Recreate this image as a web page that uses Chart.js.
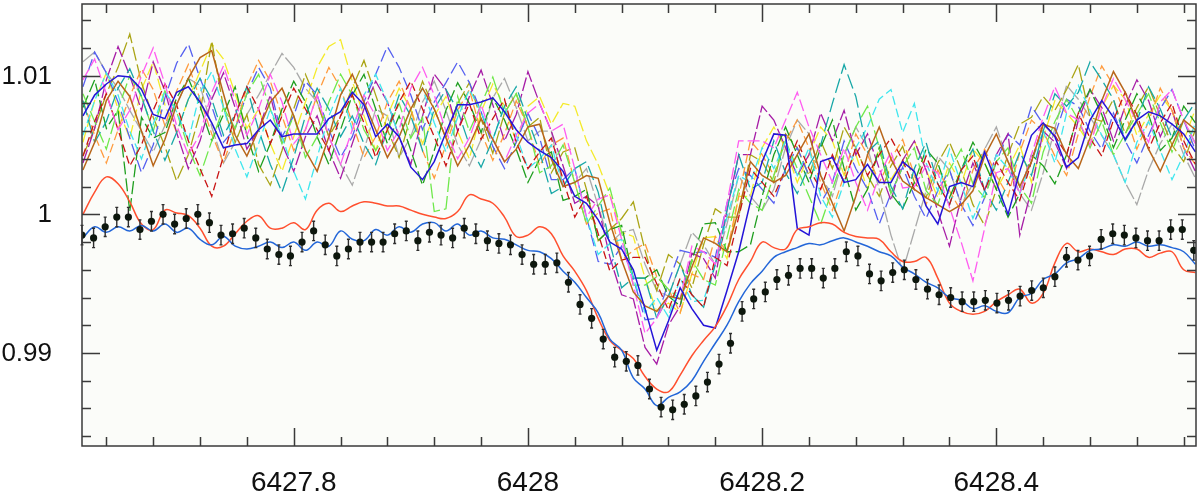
<!DOCTYPE html>
<html>
<head>
<meta charset="utf-8">
<script src="https://cdn.jsdelivr.net/npm/chart.js@4.4.0/dist/chart.umd.min.js"></script>
<style>
  html, body { margin: 0; padding: 0; background: #ffffff; }
  #wrap { width: 1200px; height: 498px; }
</style>
</head>
<body>
<div id="wrap"><canvas id="spectrum" width="1200" height="498"></canvas></div>
<script>
// --- AXIS RANGE AND TICKS ---
const xMin = 6427.6192, xMax = 6428.5705;
const yMin = 0.98329, yMax = 1.01517;
const xMajorTicks = [6427.8, 6428, 6428.2, 6428.4];
const xTickLabels = ['6427.8', '6428', '6428.2', '6428.4'];
const yMajorTicks = [0.99, 1, 1.01];
const yTickLabels = ['0.99', '1', '1.01'];
const xMinorStep = 0.04, yMinorStep = 0.002;

// --- WAVELENGTH GRIDS ---
const modelWave = [
  6427.62,6427.63,6427.64,6427.65,6427.66,6427.67,6427.68,6427.69,6427.70,6427.71,
  6427.72,6427.73,6427.74,6427.75,6427.76,6427.77,6427.78,6427.79,6427.80,6427.81,
  6427.82,6427.83,6427.84,6427.85,6427.86,6427.87,6427.88,6427.89,6427.90,6427.91,
  6427.92,6427.93,6427.94,6427.95,6427.96,6427.97,6427.98,6427.99,6428.00,6428.01,
  6428.02,6428.03,6428.04,6428.05,6428.06,6428.07,6428.08,6428.09,6428.10,6428.11,
  6428.12,6428.13,6428.14,6428.15,6428.16,6428.17,6428.18,6428.19,6428.20,6428.21,
  6428.22,6428.23,6428.24,6428.25,6428.26,6428.27,6428.28,6428.29,6428.30,6428.31,
  6428.32,6428.33,6428.34,6428.35,6428.36,6428.37,6428.38,6428.39,6428.40,6428.41,
  6428.42,6428.43,6428.44,6428.45,6428.46,6428.47,6428.48,6428.49,6428.50,6428.51,
  6428.52,6428.53,6428.54,6428.55,6428.56,6428.57
];
const obsWave = [
  6427.6192,6427.6291,6427.6390,6427.6489,6427.6588,6427.6687,6427.6785,6427.6884,6427.6983,6427.7082,
  6427.7181,6427.7280,6427.7379,6427.7478,6427.7577,6427.7676,6427.7774,6427.7873,6427.7972,6427.8071,
  6427.8170,6427.8269,6427.8368,6427.8467,6427.8566,6427.8665,6427.8763,6427.8862,6427.8961,6427.9060,
  6427.9159,6427.9258,6427.9357,6427.9456,6427.9555,6427.9654,6427.9752,6427.9851,6427.9950,6428.0049,
  6428.0148,6428.0247,6428.0346,6428.0445,6428.0544,6428.0643,6428.0741,6428.0840,6428.0939,6428.1038,
  6428.1137,6428.1236,6428.1335,6428.1434,6428.1533,6428.1632,6428.1730,6428.1829,6428.1928,6428.2027,
  6428.2126,6428.2225,6428.2324,6428.2423,6428.2522,6428.2621,6428.2719,6428.2818,6428.2917,6428.3016,
  6428.3115,6428.3214,6428.3313,6428.3412,6428.3511,6428.3610,6428.3708,6428.3807,6428.3906,6428.4005,
  6428.4104,6428.4203,6428.4302,6428.4401,6428.4500,6428.4599,6428.4697,6428.4796,6428.4895,6428.4994,
  6428.5093,6428.5192,6428.5291,6428.5390,6428.5489,6428.5588,6428.5686
];

// --- OBSERVED (AVERAGED) SPECTRUM ---
const obsFlux = [
  0.9985,0.9983,0.9991,0.9998,0.9998,0.9989,0.9995,1.0000,0.9993,0.9997,
  1.0000,0.9994,0.9985,0.9986,0.9990,0.9983,0.9975,0.9971,0.9970,0.9980,
  0.9988,0.9978,0.9970,0.9975,0.9980,0.9980,0.9980,0.9986,0.9988,0.9981,
  0.9987,0.9985,0.9983,0.9990,0.9986,0.9981,0.9979,0.9978,0.9971,0.9964,
  0.9964,0.9965,0.9951,0.9935,0.9925,0.9910,0.9897,0.9894,0.9891,0.9874,
  0.9861,0.9859,0.9863,0.9869,0.9879,0.9892,0.9907,0.9930,0.9939,0.9944,
  0.9953,0.9956,0.9961,0.9961,0.9954,0.9961,0.9973,0.9970,0.9957,0.9952,
  0.9958,0.9960,0.9953,0.9946,0.9942,0.9940,0.9937,0.9937,0.9938,0.9936,
  0.9938,0.9941,0.9945,0.9947,0.9955,0.9969,0.9967,0.9970,0.9982,0.9986,
  0.9985,0.9983,0.9981,0.9981,0.9989,0.9989,0.9974
];
const obsErr = 0.0007;

// --- MODEL SPECTRA ---
const modelBlue = [
  0.9983,0.9991,0.9987,0.9991,0.9988,0.9992,0.9988,0.9993,0.9987,0.9990,
  0.9982,0.9978,0.9984,0.9977,0.9975,0.9977,0.9980,0.9976,0.9980,0.9974,
  0.9980,0.9977,0.9988,0.9982,0.9981,0.9989,0.9985,0.9991,0.9987,0.9993,
  0.9994,0.9988,0.9993,0.9985,0.9988,0.9983,0.9982,0.9978,0.9974,0.9973,
  0.9968,0.9959,0.9951,0.9940,0.9929,0.9910,0.9902,0.9882,0.9874,0.9862,
  0.9868,0.9872,0.9880,0.9894,0.9907,0.9920,0.9937,0.9950,0.9959,0.9969,
  0.9973,0.9976,0.9979,0.9978,0.9981,0.9983,0.9980,0.9977,0.9973,0.9970,
  0.9962,0.9957,0.9951,0.9947,0.9940,0.9938,0.9932,0.9934,0.9930,0.9929,
  0.9940,0.9943,0.9953,0.9957,0.9965,0.9968,0.9974,0.9975,0.9978,0.9977,
  0.9980,0.9977,0.9978,0.9976,0.9973,0.9964
];
const modelRed = [
  1.0000,1.0016,1.0027,1.0022,1.0009,0.9993,0.9989,1.0003,1.0001,0.9999,
  0.9990,0.9977,0.9977,0.9986,0.9995,0.9999,0.9990,0.9990,0.9994,0.9989,
  1.0003,1.0008,1.0002,1.0006,1.0009,1.0008,1.0006,1.0006,1.0003,1.0000,
  0.9998,0.9997,1.0002,1.0014,1.0011,1.0008,0.9998,0.9984,0.9985,0.9991,
  0.9986,0.9970,0.9959,0.9945,0.9925,0.9909,0.9902,0.9896,0.9883,0.9874,
  0.9872,0.9884,0.9898,0.9909,0.9919,0.9934,0.9953,0.9966,0.9980,0.9976,
  0.9975,0.9989,0.9991,0.9994,0.9993,0.9987,0.9984,0.9983,0.9982,0.9973,
  0.9966,0.9966,0.9969,0.9954,0.9936,0.9930,0.9928,0.9930,0.9937,0.9942,
  0.9946,0.9936,0.9943,0.9965,0.9979,0.9973,0.9975,0.9973,0.9971,0.9975,
  0.9975,0.9969,0.9972,0.9973,0.9960,0.9958
];

// --- INDIVIDUAL EXPOSURES (shifted up) ---
const specGray = [
  1.0110,1.0117,1.0102,1.0091,1.0075,1.0060,1.0045,1.0064,1.0079,1.0098,
  1.0093,1.0063,1.0037,1.0052,1.0072,1.0086,1.0101,1.0116,1.0106,1.0091,
  1.0081,1.0056,1.0036,1.0021,1.0046,1.0076,1.0071,1.0041,1.0056,1.0081,
  1.0096,1.0075,1.0050,1.0035,1.0054,1.0084,1.0098,1.0077,1.0053,1.0060,
  1.0060,1.0020,1.0023,1.0033,1.0006,0.9979,0.9987,0.9989,0.9964,0.9945,
  0.9941,0.9964,0.9987,0.9978,0.9964,0.9993,1.0028,1.0013,1.0003,1.0018,
  1.0048,1.0068,1.0058,1.0028,1.0013,1.0043,1.0063,1.0048,1.0018,0.9985,
  0.9959,0.9988,1.0017,1.0042,1.0032,1.0007,1.0022,1.0047,1.0063,1.0038,
  1.0015,1.0003,1.0030,1.0062,1.0093,1.0083,1.0070,1.0057,1.0043,1.0023,
  1.0007,1.0032,1.0051,1.0065,1.0043,1.0026
];
const specYellow = [
  1.0052,1.0082,1.0102,1.0076,1.0055,1.0090,1.0110,1.0079,1.0059,1.0083,
  1.0103,1.0123,1.0112,1.0087,1.0062,1.0076,1.0051,1.0031,1.0056,1.0081,
  1.0106,1.0121,1.0126,1.0096,1.0071,1.0046,1.0071,1.0091,1.0076,1.0051,
  1.0071,1.0085,1.0060,1.0040,1.0074,1.0094,1.0078,1.0052,1.0078,1.0085,
  1.0065,1.0080,1.0078,1.0053,1.0036,1.0014,0.9987,0.9984,0.9954,0.9930,
  0.9936,0.9929,0.9957,0.9983,0.9984,0.9968,1.0013,1.0013,1.0048,1.0063,
  1.0048,1.0023,1.0043,1.0063,1.0053,1.0028,1.0043,1.0018,1.0048,1.0025,
  1.0039,1.0053,1.0032,1.0012,1.0037,1.0022,1.0047,1.0037,1.0018,1.0033,
  1.0050,1.0023,1.0055,1.0082,1.0073,1.0063,1.0050,1.0077,1.0093,1.0083,
  1.0057,1.0072,1.0086,1.0075,1.0053,1.0076
];
const specOlive = [
  1.0042,1.0062,1.0087,1.0106,1.0130,1.0095,1.0070,1.0049,1.0024,1.0043,
  1.0073,1.0125,1.0077,1.0052,1.0072,1.0036,1.0021,1.0046,1.0076,1.0101,
  1.0081,1.0056,1.0071,1.0091,1.0111,1.0086,1.0061,1.0041,1.0071,1.0096,
  1.0076,1.0055,1.0080,1.0095,1.0069,1.0044,1.0073,1.0087,1.0063,1.0070,
  1.0030,1.0045,1.0048,1.0018,0.9981,0.9989,0.9997,1.0009,0.9974,0.9945,
  0.9971,0.9964,0.9947,0.9978,1.0004,0.9998,0.9998,1.0043,1.0038,1.0023,
  1.0058,1.0048,1.0028,1.0053,1.0033,1.0063,1.0048,1.0028,1.0013,1.0035,
  1.0049,1.0023,1.0012,1.0037,1.0052,1.0032,1.0007,0.9992,1.0018,1.0043,
  1.0065,1.0070,1.0085,1.0075,1.0090,1.0108,1.0070,1.0067,1.0083,1.0058,
  1.0077,1.0092,1.0071,1.0050,1.0038,1.0061
];
const specBlueDash = [
  1.0092,1.0117,1.0102,1.0081,1.0055,1.0030,1.0050,1.0084,1.0109,1.0123,
  1.0098,1.0078,1.0052,1.0062,1.0087,1.0106,1.0091,1.0056,1.0071,1.0096,
  1.0086,1.0061,1.0041,1.0056,1.0081,1.0101,1.0121,1.0106,1.0086,1.0061,
  1.0081,1.0095,1.0110,1.0095,1.0074,1.0049,1.0033,1.0052,1.0073,1.0055,
  1.0025,1.0025,1.0033,0.9998,0.9966,0.9964,0.9977,0.9954,0.9924,0.9925,
  0.9951,0.9974,0.9972,0.9973,0.9969,1.0008,1.0033,1.0028,1.0018,1.0008,
  1.0033,1.0048,1.0028,1.0008,1.0023,1.0053,1.0033,1.0018,0.9993,1.0015,
  1.0034,1.0013,0.9997,1.0017,1.0032,1.0007,0.9992,1.0012,1.0038,1.0058,
  1.0050,1.0078,1.0065,1.0057,1.0083,1.0078,1.0060,1.0047,1.0073,1.0053,
  1.0037,1.0057,1.0076,1.0090,1.0068,1.0046
];
const specPurple = [
  1.0037,1.0062,1.0097,1.0121,1.0100,1.0075,1.0110,1.0089,1.0059,1.0033,
  1.0053,1.0083,1.0102,1.0077,1.0047,1.0061,1.0086,1.0051,1.0031,1.0056,
  1.0071,1.0046,1.0026,1.0051,1.0076,1.0096,1.0081,1.0056,1.0036,1.0071,
  1.0101,1.0090,1.0060,1.0085,1.0104,1.0079,1.0053,1.0072,1.0103,1.0080,
  1.0060,1.0035,1.0008,1.0013,1.0006,0.9969,0.9942,0.9939,0.9904,0.9892,
  0.9920,0.9934,0.9972,0.9968,0.9954,1.0003,1.0043,1.0043,1.0078,1.0068,
  1.0048,1.0028,1.0043,1.0073,1.0053,1.0075,1.0043,1.0058,1.0033,1.0010,
  1.0039,1.0053,1.0032,1.0002,0.9977,1.0012,1.0037,1.0017,1.0043,1.0058,
  0.9985,1.0018,1.0060,1.0052,1.0033,1.0068,1.0090,1.0077,1.0053,1.0078,
  1.0097,1.0082,1.0056,1.0075,1.0048,1.0031
];
const specOrange = [
  1.0082,1.0057,1.0037,1.0061,1.0085,1.0105,1.0090,1.0064,1.0089,1.0108,
  1.0083,1.0058,1.0037,1.0062,1.0092,1.0111,1.0096,1.0071,1.0046,1.0061,
  1.0086,1.0106,1.0091,1.0066,1.0041,1.0056,1.0081,1.0096,1.0076,1.0046,
  1.0026,1.0050,1.0075,1.0090,1.0059,1.0039,1.0058,1.0082,1.0063,1.0035,
  1.0050,1.0055,1.0023,0.9993,1.0001,1.0004,0.9967,0.9974,0.9979,0.9955,
  0.9946,0.9929,0.9957,0.9953,0.9984,0.9973,1.0013,1.0053,1.0043,1.0028,
  1.0053,1.0068,1.0048,1.0023,1.0003,1.0028,1.0058,1.0043,1.0023,1.0040,
  1.0054,1.0028,1.0007,1.0032,1.0017,1.0002,1.0032,1.0047,1.0028,1.0013,
  1.0045,1.0068,1.0060,1.0042,1.0028,1.0058,1.0085,1.0107,1.0093,1.0073,
  1.0047,1.0067,1.0091,1.0075,1.0048,1.0036
];
const specGreen = [
  1.0077,1.0097,1.0062,1.0075,1.0002,1.0070,1.0055,1.0059,1.0084,1.0098,
  1.0078,1.0053,1.0072,1.0092,1.0057,1.0031,1.0051,1.0076,1.0096,1.0081,
  1.0056,1.0036,1.0061,1.0086,1.0101,1.0076,1.0051,1.0071,1.0046,1.0021,
  1.0046,1.0075,1.0095,1.0080,1.0059,1.0084,1.0068,1.0047,1.0023,1.0040,
  1.0045,1.0010,1.0013,1.0018,0.9981,0.9989,0.9992,0.9954,0.9954,0.9960,
  0.9941,0.9934,0.9967,0.9993,0.9994,0.9973,0.9973,0.9978,1.0013,1.0043,
  1.0063,1.0043,1.0023,1.0048,1.0068,1.0033,1.0003,1.0018,1.0048,1.0015,
  1.0004,1.0023,1.0047,1.0037,1.0012,1.0032,1.0052,1.0037,1.0018,0.9998,
  1.0015,1.0043,1.0035,1.0022,1.0043,1.0073,1.0090,1.0072,1.0048,1.0068,
  1.0087,1.0072,1.0046,1.0055,1.0078,1.0066
];
const specLime = [
  1.0087,1.0067,1.0047,1.0076,1.0100,1.0085,1.0060,1.0089,1.0074,1.0048,
  1.0028,1.0053,1.0077,1.0062,1.0087,1.0101,1.0076,1.0051,1.0071,1.0041,
  1.0056,1.0081,1.0101,1.0086,1.0061,1.0046,1.0060,1.0080,1.0055,1.0070,
  1.0002,1.0004,1.0085,1.0060,1.0079,1.0099,1.0073,1.0087,1.0063,1.0030,
  1.0035,1.0050,1.0023,0.9993,1.0006,1.0019,0.9987,0.9949,0.9949,0.9955,
  0.9946,0.9939,0.9967,0.9953,0.9949,0.9983,1.0018,1.0008,1.0003,1.0028,
  1.0053,1.0033,1.0013,0.9993,1.0018,1.0043,1.0063,1.0078,1.0048,1.0015,
  1.0034,1.0048,1.0017,1.0007,1.0032,1.0047,1.0022,1.0012,1.0038,1.0048,
  1.0020,1.0008,1.0045,1.0067,1.0083,1.0068,1.0048,1.0067,1.0043,1.0058,
  1.0072,1.0087,1.0066,1.0045,1.0068,1.0051
];
const specCyan = [
  1.0057,1.0082,1.0102,1.0086,1.0060,1.0040,1.0065,1.0089,1.0074,1.0053,
  1.0088,1.0103,1.0077,1.0047,1.0027,1.0051,1.0076,1.0056,1.0031,1.0011,
  1.0041,1.0071,1.0091,1.0061,1.0086,1.0101,1.0081,1.0056,1.0076,1.0091,
  1.0066,1.0045,1.0070,1.0090,1.0074,1.0054,1.0078,1.0057,1.0033,1.0040,
  1.0050,1.0020,1.0033,0.9998,0.9971,0.9979,0.9982,0.9954,0.9929,0.9940,
  0.9926,0.9954,0.9937,0.9938,0.9964,0.9998,1.0028,1.0023,1.0048,1.0033,
  1.0053,1.0028,1.0048,1.0013,0.9998,1.0023,1.0048,1.0063,1.0083,1.0090,
  1.0059,1.0080,1.0037,1.0017,1.0047,1.0022,0.9997,1.0017,1.0043,1.0033,
  1.0015,1.0038,1.0060,1.0037,1.0073,1.0093,1.0075,1.0057,1.0043,1.0023,
  1.0052,1.0067,1.0046,1.0025,1.0043,1.0066
];
const specTeal = [
  1.0082,1.0052,1.0067,1.0091,1.0105,1.0085,1.0060,1.0039,1.0059,1.0083,
  1.0098,1.0083,1.0057,1.0072,1.0092,1.0061,1.0036,1.0016,1.0041,1.0071,
  1.0091,1.0076,1.0056,1.0071,1.0051,1.0036,1.0061,1.0086,1.0071,1.0046,
  1.0076,1.0090,1.0075,1.0050,1.0034,1.0054,1.0078,1.0092,1.0068,1.0045,
  1.0015,1.0020,1.0033,1.0038,1.0016,0.9979,0.9947,0.9954,0.9954,0.9925,
  0.9941,0.9964,0.9942,0.9933,0.9964,1.0003,1.0043,1.0018,1.0023,1.0053,
  1.0030,1.0015,1.0035,1.0050,1.0080,1.0108,1.0085,1.0045,1.0053,1.0020,
  1.0004,1.0033,1.0052,1.0022,1.0007,1.0032,1.0047,1.0017,1.0003,1.0023,
  1.0045,1.0028,1.0060,1.0087,1.0078,1.0088,1.0110,1.0097,1.0083,1.0053,
  1.0067,1.0092,1.0076,1.0055,1.0068,1.0081
];
const specDarkRed = [
  1.0042,1.0067,1.0087,1.0061,1.0035,1.0050,1.0075,1.0094,1.0079,1.0053,
  1.0033,1.0013,1.0042,1.0072,1.0092,1.0076,1.0051,1.0071,1.0091,1.0076,
  1.0061,1.0046,1.0071,1.0086,1.0066,1.0041,1.0061,1.0081,1.0096,1.0076,
  1.0056,1.0035,1.0060,1.0080,1.0054,1.0069,1.0083,1.0052,1.0033,1.0045,
  1.0055,1.0025,0.9998,1.0013,0.9986,0.9959,0.9967,0.9969,0.9969,0.9950,
  0.9931,0.9954,0.9942,0.9933,0.9969,0.9963,0.9998,1.0033,1.0023,1.0013,
  1.0033,1.0053,1.0033,1.0018,1.0043,1.0023,1.0048,1.0028,1.0043,1.0055,
  1.0039,1.0018,1.0042,1.0022,1.0007,1.0032,1.0042,1.0017,1.0038,1.0023,
  1.0010,1.0038,1.0065,1.0057,1.0043,1.0073,1.0055,1.0042,1.0068,1.0088,
  1.0072,1.0047,1.0066,1.0080,1.0053,1.0036
];
const specPink = [
  1.0097,1.0112,1.0087,1.0061,1.0075,1.0100,1.0120,1.0094,1.0064,1.0043,
  1.0058,1.0088,1.0107,1.0082,1.0057,1.0076,1.0101,1.0081,1.0051,1.0061,
  1.0086,1.0056,1.0036,1.0061,1.0086,1.0071,1.0046,1.0061,1.0091,1.0106,
  1.0086,1.0060,1.0040,1.0055,1.0079,1.0054,1.0038,1.0057,1.0073,1.0080,
  1.0060,1.0065,1.0033,0.9998,1.0011,1.0014,0.9982,0.9949,0.9914,0.9925,
  0.9941,0.9939,0.9977,0.9973,0.9964,1.0008,1.0053,1.0053,1.0053,1.0048,
  1.0068,1.0088,1.0063,1.0043,1.0023,1.0048,1.0023,1.0003,1.0028,1.0045,
  1.0019,1.0020,1.0035,1.0030,1.0005,0.9980,0.9952,0.9990,1.0030,1.0033,
  1.0015,1.0043,1.0070,1.0092,1.0073,1.0068,1.0050,1.0077,1.0098,1.0083,
  1.0067,1.0052,1.0081,1.0090,1.0068,1.0051
];
const specBrown = [
  1.0032,1.0052,1.0082,1.0096,1.0085,1.0060,1.0035,1.0054,1.0079,1.0098,
  1.0113,1.0118,1.0087,1.0057,1.0042,1.0061,1.0081,1.0091,1.0071,1.0046,
  1.0031,1.0056,1.0086,1.0101,1.0081,1.0061,1.0041,1.0056,1.0076,1.0091,
  1.0076,1.0055,1.0035,1.0050,1.0069,1.0054,1.0038,1.0047,1.0063,1.0065,
  1.0040,1.0020,1.0023,1.0028,1.0026,0.9994,0.9967,0.9944,0.9934,0.9930,
  0.9941,0.9939,0.9962,0.9983,0.9979,0.9973,1.0003,1.0038,1.0028,1.0023,
  1.0028,1.0043,1.0058,1.0028,1.0008,0.9988,1.0013,1.0043,1.0063,1.0040,
  1.0024,1.0018,1.0012,1.0007,1.0002,1.0007,1.0017,1.0042,1.0058,1.0038,
  1.0020,1.0038,1.0065,1.0062,1.0043,1.0033,1.0055,1.0082,1.0103,1.0088,
  1.0067,1.0047,1.0031,1.0050,1.0068,1.0061
];
const specRoyal = [
  1.0071,1.0086,1.0094,1.0100,1.0099,1.0090,1.0072,1.0069,1.0088,1.0092,
  1.0081,1.0066,1.0048,1.0050,1.0051,1.0061,1.0068,1.0056,1.0058,1.0058,
  1.0058,1.0069,1.0074,1.0088,1.0079,1.0056,1.0065,1.0056,1.0034,1.0025,
  1.0038,1.0059,1.0079,1.0079,1.0081,1.0084,1.0074,1.0061,1.0052,1.0046,
  1.0041,1.0031,1.0013,1.0008,0.9996,0.9980,0.9975,0.9960,0.9932,0.9902,
  0.9923,0.9947,0.9932,0.9920,0.9918,0.9945,0.9973,1.0009,1.0038,1.0058,
  1.0057,0.9990,0.9985,1.0038,1.0041,1.0023,1.0025,1.0036,1.0023,1.0023,
  1.0038,1.0031,1.0006,0.9993,1.0020,1.0023,1.0020,1.0045,1.0023,1.0000,
  1.0031,1.0057,1.0066,1.0056,1.0034,1.0041,1.0068,1.0082,1.0070,1.0054,
  1.0068,1.0074,1.0071,1.0065,1.0058,1.0045
];

// --- CHART SETUP ---
const toPoints = (wave, flux) => wave.map((x, i) => ({ x: x, y: flux[i] }));

const exposures = [
  { flux: specGray,     color: '#a9a9a9', dash: [16, 3] },
  { flux: specYellow,   color: '#f4ea2a', dash: [12, 4] },
  { flux: specOlive,    color: '#aaa415', dash: [14, 4] },
  { flux: specBlueDash, color: '#5560f0', dash: [12, 5] },
  { flux: specPurple,   color: '#a61ca6', dash: [14, 3] },
  { flux: specOrange,   color: '#ff9a3c', dash: [9, 4] },
  { flux: specGreen,    color: '#1e9e1e', dash: [13, 4] },
  { flux: specLime,     color: '#6ee84a', dash: [15, 4] },
  { flux: specCyan,     color: '#3fe6ee', dash: [9, 4] },
  { flux: specTeal,     color: '#17a7a7', dash: [15, 5] },
  { flux: specDarkRed,  color: '#c81414', dash: [8, 4] },
  { flux: specPink,     color: '#ff5cf0', dash: [12, 4] },
  { flux: specBrown,    color: '#b8661a', dash: [] },
  { flux: specRoyal,    color: '#2414d8', dash: [] }
];

const datasets = [
  {
    label: 'observed', data: toPoints(obsWave, obsFlux), order: 0,
    showLine: false, pointRadius: 3.6, pointBackgroundColor: '#0d170d',
    pointBorderWidth: 0, borderColor: '#0d170d'
  },
  {
    label: 'model blue', data: toPoints(modelWave, modelBlue), order: 1,
    borderColor: '#2366d8', borderWidth: 1.5, tension: 0.4, pointRadius: 0
  },
  {
    label: 'model red', data: toPoints(modelWave, modelRed), order: 2,
    borderColor: '#ff4f2e', borderWidth: 1.5, tension: 0.4, pointRadius: 0
  }
];
exposures.forEach((e, i) => {
  datasets.push({
    label: 'exposure ' + (i + 1), data: toPoints(modelWave, e.flux), order: 3 + (exposures.length - i),
    borderColor: e.color, borderDash: e.dash, borderWidth: e.dash.length ? 1.3 : 1.5,
    tension: 0, pointRadius: 0
  });
});

const framePlugin = {
  id: 'frame',
  beforeDatasetsDraw(chart) {
    const { ctx, chartArea: a } = chart;
    ctx.save();
    ctx.fillStyle = '#fbfcf9';
    ctx.fillRect(a.left, a.top, a.right - a.left, a.bottom - a.top);
    ctx.restore();
  },
  beforeDatasetDraw(chart, args) {
    if (args.index !== 0) return;
    const { ctx } = chart;
    const xs = chart.scales.x, ys = chart.scales.y;
    ctx.save();
    ctx.strokeStyle = '#2e2e2e';
    ctx.lineWidth = 1.4;
    obsWave.forEach((w, i) => {
      const px = xs.getPixelForValue(w);
      const top = ys.getPixelForValue(obsFlux[i] + obsErr);
      const bot = ys.getPixelForValue(obsFlux[i] - obsErr);
      ctx.beginPath();
      ctx.moveTo(px, top); ctx.lineTo(px, bot);
      ctx.moveTo(px - 1.5, top); ctx.lineTo(px + 1.5, top);
      ctx.moveTo(px - 1.5, bot); ctx.lineTo(px + 1.5, bot);
      ctx.stroke();
    });
    ctx.restore();
  },
  afterDatasetsDraw(chart) {
    const { ctx, chartArea: a } = chart;
    const xs = chart.scales.x, ys = chart.scales.y;
    ctx.save();
    ctx.strokeStyle = '#3a3a3a';
    ctx.lineWidth = 1.5;
    ctx.strokeRect(a.left, a.top, a.right - a.left, a.bottom - a.top);

    const isMajor = (v, list) => list.some(m => Math.abs(m - v) < 1e-7);
    ctx.beginPath();
    // x ticks, bottom and top, pointing inwards
    for (let k = 0; ; k++) {
      const v = Math.round((6427.64 + k * xMinorStep) * 1e4) / 1e4;
      if (v > xMax) break;
      const px = Math.round(xs.getPixelForValue(v)) + 0.5;
      const len = isMajor(v, xMajorTicks) ? 18 : 9;
      ctx.moveTo(px, a.bottom); ctx.lineTo(px, a.bottom - len);
      ctx.moveTo(px, a.top); ctx.lineTo(px, a.top + len);
    }
    // y ticks, left and right
    for (let k = 0; ; k++) {
      const v = Math.round((0.984 + k * yMinorStep) * 1e4) / 1e4;
      if (v > yMax) break;
      const py = Math.round(ys.getPixelForValue(v)) + 0.5;
      const len = isMajor(v, yMajorTicks) ? 18 : 9;
      ctx.moveTo(a.left, py); ctx.lineTo(a.left + len, py);
      ctx.moveTo(a.right, py); ctx.lineTo(a.right - len, py);
    }
    ctx.stroke();

    // tick labels
    ctx.fillStyle = '#111111';
    ctx.textBaseline = 'middle';
    ctx.font = '28px "Liberation Sans", Arial, Helvetica, sans-serif';
    ctx.textAlign = 'center';
    xMajorTicks.forEach((v, i) => {
      ctx.fillText(xTickLabels[i], xs.getPixelForValue(v), 483);
    });
    ctx.font = '26px "Liberation Sans", Arial, Helvetica, sans-serif';
    ctx.textAlign = 'right';
    yMajorTicks.forEach((v, i) => {
      ctx.fillText(yTickLabels[i], 52, ys.getPixelForValue(v) + 1);
    });
    ctx.restore();
  }
};

new Chart(document.getElementById('spectrum'), {
  type: 'line',
  data: { datasets: datasets },
  options: {
    responsive: false,
    animation: false,
    devicePixelRatio: 1,
    layout: { padding: { top: 1, right: 1, left: 0, bottom: 0 } },
    plugins: { legend: { display: false }, tooltip: { enabled: false } },
    scales: {
      x: {
        type: 'linear', min: xMin, max: xMax,
        grid: { display: false }, border: { display: false },
        ticks: { display: false },
        afterFit: (scale) => { scale.height = 52; }
      },
      y: {
        type: 'linear', min: yMin, max: yMax,
        grid: { display: false }, border: { display: false },
        ticks: { display: false },
        afterFit: (scale) => { scale.width = 82; }
      }
    }
  },
  plugins: [framePlugin]
});
</script>
</body>
</html>
